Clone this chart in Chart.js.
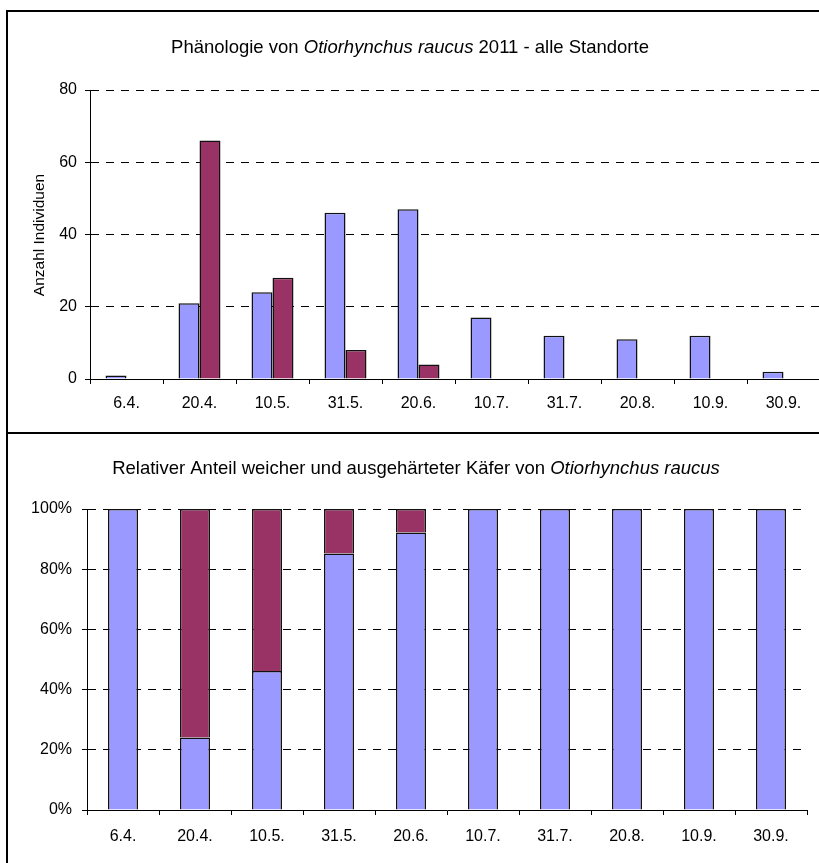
<!DOCTYPE html>
<html>
<head>
<meta charset="utf-8">
<script src="https://cdn.jsdelivr.net/npm/chart.js@4/dist/chart.umd.min.js"></script>
<style>
  html, body { margin: 0; padding: 0; background: #fff; overflow: hidden; width: 819px; height: 863px; }
  #wrap { position: relative; width: 819px; height: 863px; overflow: hidden; }
  canvas { position: absolute; left: 0; }
  .rule { position: absolute; background: #000; }
</style>
</head>
<body>
<div id="wrap">
  <canvas id="counts" width="840" height="433" style="top:0"></canvas>
  <canvas id="shares" width="840" height="430" style="top:433px"></canvas>
  <div class="rule" style="left:6px;top:10px;width:900px;height:2px"></div>
  <div class="rule" style="left:6px;top:10px;width:2px;height:900px"></div>
  <div class="rule" style="left:6px;top:432px;width:900px;height:2px"></div>
</div>
<script>
// Sampling dates 2011
const dates = ['6.4.', '20.4.', '10.5.', '31.5.', '20.6.', '10.7.', '31.7.', '20.8.', '10.9.', '30.9.'];

// Number of beetles per date
const hardenedCount = [1, 21, 24, 46, 47, 17, 12, 11, 12, 2];
const softCount = [null, 66, 28, 8, 4, null, null, null, null, null];

// Relative share per date (%)
const hardenedShare = [100, 24.1, 46.2, 85.2, 92.2, 100, 100, 100, 100, 100];
const softShare = [null, 75.9, 53.8, 14.8, 7.8, null, null, null, null, null];

// Axis ticks
const countTicks = { min: 0, max: 80, step: 20 };
const shareTicks = { min: 0, max: 100, step: 20 };

const FONT = "'Liberation Sans', Arial, sans-serif";
const BLUE = '#9999FF';
const PLUM = '#993366';
const EDGE = '#111';

Chart.defaults.font.family = FONT;
Chart.defaults.color = '#000';

// Draws centred text made of plain and italic pieces
function textLayer(items) {
  return {
    id: 'textLayer',
    afterDraw(chart) {
      const ctx = chart.ctx;
      items.forEach(it => {
        ctx.save();
        ctx.fillStyle = '#000';
        ctx.textBaseline = 'middle';
        ctx.textAlign = 'left';
        ctx.translate(it.x, it.y);
        if (it.rotate) ctx.rotate(it.rotate);
        const fonts = it.parts.map(p => (p[1] ? 'italic ' : '') + it.size + 'px ' + FONT);
        let total = 0;
        const widths = it.parts.map((p, i) => {
          ctx.font = fonts[i];
          const w = ctx.measureText(p[0]).width;
          total += w;
          return w;
        });
        let x = -total / 2;
        it.parts.forEach((p, i) => {
          ctx.font = fonts[i];
          ctx.fillText(p[0], x, 0);
          x += widths[i];
        });
        ctx.restore();
      });
    }
  };
}

function yScale(t, fmt, labelPad, width) {
  return {
    min: t.min, max: t.max,
    ticks: { stepSize: t.step, padding: labelPad, font: { size: 16 }, callback: fmt },
    grid: { color: '#000', lineWidth: 1, tickLength: 5, tickColor: '#000', tickBorderDash: [] },
    border: { display: true, color: '#000', width: 1, dash: [8, 7] },
    afterFit(s) { s.width = width; }
  };
}

function xScale(stacked, labelPad, height) {
  return {
    stacked: stacked,
    ticks: { padding: labelPad, font: { size: 16 }, maxRotation: 0, autoSkip: false },
    grid: { offset: true, drawOnChartArea: false, drawTicks: true, tickLength: 5, tickColor: '#000', color: '#000' },
    border: { display: true, color: '#000', width: 1 },
    afterFit(s) { s.height = height; }
  };
}

// Upper chart: counts of hardened and soft beetles
new Chart(document.getElementById('counts'), {
  type: 'bar',
  data: {
    labels: dates,
    datasets: [
      { label: 'ausgehärtet', data: hardenedCount, backgroundColor: BLUE, borderColor: EDGE, borderWidth: 1.5 },
      { label: 'weich', data: softCount, backgroundColor: PLUM, borderColor: EDGE, borderWidth: 1.5 }
    ]
  },
  options: {
    responsive: false,
    devicePixelRatio: 1,
    animation: false,
    layout: { padding: { top: 90, left: 0, right: 20, bottom: 0 } },
    datasets: { bar: { barPercentage: 1, categoryPercentage: 0.575 } },
    plugins: { legend: { display: false }, tooltip: { enabled: false } },
    scales: {
      x: xScale(false, 10, 54),
      y: yScale(countTicks, v => v, 8, 90)
    }
  },
  plugins: [textLayer([
    { x: 410, y: 48, size: 18.5, parts: [['Phänologie von ', false], ['Otiorhynchus raucus', true], [' 2011 - alle Standorte', false]] },
    { x: 40, y: 235, size: 15.5, rotate: -Math.PI / 2, parts: [['Anzahl Individuen', false]] }
  ])]
});

// Lower chart: relative share of soft and hardened beetles
new Chart(document.getElementById('shares'), {
  type: 'bar',
  data: {
    labels: dates,
    datasets: [
      { label: 'ausgehärtet', data: hardenedShare, backgroundColor: BLUE, borderColor: EDGE, borderWidth: 1.5 },
      { label: 'weich', data: softShare, backgroundColor: PLUM, borderColor: EDGE, borderWidth: 1.5 }
    ]
  },
  options: {
    responsive: false,
    devicePixelRatio: 1,
    animation: false,
    layout: { padding: { top: 76, left: 0, right: 33, bottom: 0 } },
    datasets: { bar: { barPercentage: 1, categoryPercentage: 0.417 } },
    plugins: { legend: { display: false }, tooltip: { enabled: false } },
    scales: {
      x: xScale(true, 12, 53),
      y: Object.assign(yScale(shareTicks, v => v + '%', 10, 87), { stacked: true })
    }
  },
  plugins: [textLayer([
    { x: 416, y: 36, size: 18.5, parts: [['Relativer Anteil weicher und ausgehärteter Käfer von ', false], ['Otiorhynchus raucus', true]] }
  ])]
});
</script>
</body>
</html>
